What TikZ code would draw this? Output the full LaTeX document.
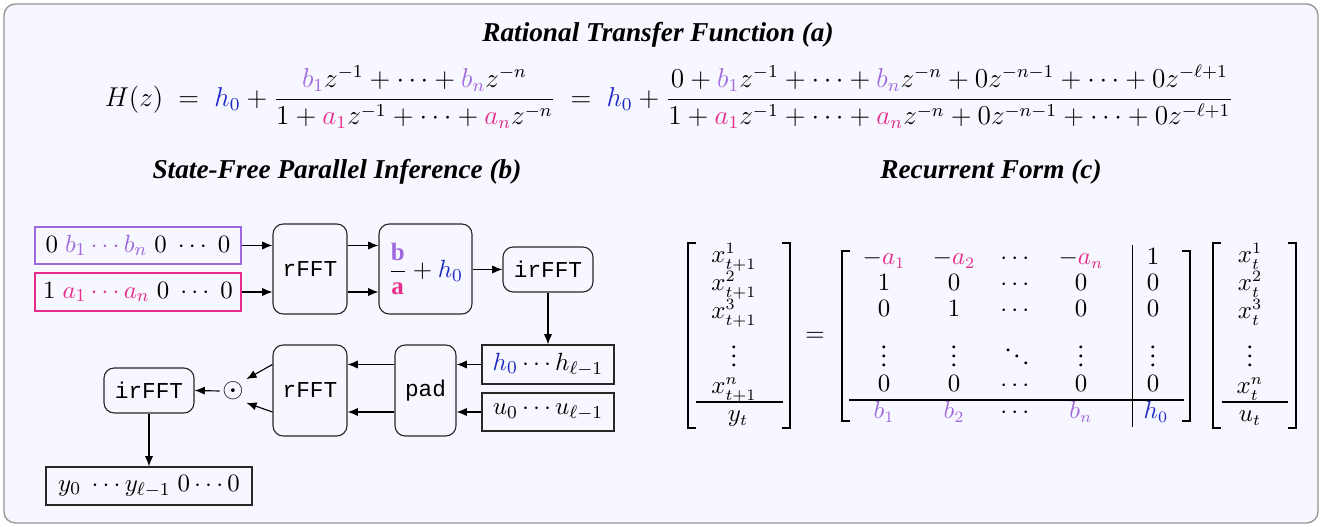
\documentclass[tikz,border=0pt]{standalone}
\usepackage{amsmath}
\usepackage{fontspec}
\setmainfont{Liberation Serif}
\setmonofont{Liberation Mono}
\usetikzlibrary{arrows.meta,calc}
\definecolor{bcol}{RGB}{160,104,222}
\definecolor{acol}{RGB}{232,44,140}
\definecolor{hcol}{RGB}{28,40,196}
\definecolor{bgcol}{RGB}{247,248,255}
\definecolor{framecol}{RGB}{150,150,150}
\definecolor{linecol}{RGB}{40,40,40}
\tikzset{
  blk/.style={draw=linecol, line width=0.5pt, rounded corners=4.5pt, inner sep=0pt, font=\ttfamily},
  vbox/.style={draw=linecol, line width=0.5pt, inner sep=0pt, font=\fontsize{11pt}{13pt}\selectfont},
  arr/.style={-{Latex[length=4.5pt,width=3.6pt]}, line width=0.5pt},
  ttl/.style={font=\fontsize{12pt}{14pt}\selectfont\bfseries\itshape},
  me/.style={anchor=base, inner sep=0pt, font=\fontsize{10.7pt}{12.8pt}\selectfont},
  brk/.style={line width=0.85pt},
  rule/.style={line width=0.45pt},
}
\begin{document}
\begin{tikzpicture}[x=0.44pt,y=-0.44pt]
\useasboundingbox (0,0) rectangle (1322,527);
\draw[framecol, fill=bgcol, line width=0.6pt, rounded corners=5pt] (4,4) rectangle (1318,523);

\node[ttl] (ta) at (658,35) {Rational Transfer Function (a)};
\node[font=\fontsize{11.9pt}{14pt}\selectfont] (eq) at (669,97) {$\displaystyle H(z) \;=\; {\color{hcol}h_0} + \frac{{\color{bcol}b_1} z^{-1} + \cdots + {\color{bcol}b_n} z^{-n}}{1 + {\color{acol}a_1} z^{-1} + \cdots + {\color{acol}a_n} z^{-n}} \;=\; {\color{hcol}h_0} + \frac{0 + {\color{bcol}b_1} z^{-1} + \cdots + {\color{bcol}b_n} z^{-n} + 0z^{-n-1} + \cdots + 0z^{-\ell+1}}{1 + {\color{acol}a_1} z^{-1} + \cdots + {\color{acol}a_n} z^{-n} + 0z^{-n-1} + \cdots + 0z^{-\ell+1}}$};

\node[ttl] (tb) at (337,172) {State-Free Parallel Inference (b)};
\node[ttl] (tc) at (991,172) {Recurrent Form (c)};

% (b) diagram
\node[vbox, draw=bcol, minimum width=206*0.44pt, minimum height=37*0.44pt] (bb) at (138,245.5) {$0\;{\color{bcol}b_1\cdots b_n}\;0\;\cdots\;0$};
\node[vbox, draw=acol, minimum width=206*0.44pt, minimum height=38*0.44pt] (ab) at (138,292) {$1\;{\color{acol}a_1\cdots a_n}\;0\;\cdots\;0$};
\node[blk, minimum width=74*0.44pt, minimum height=90*0.44pt] (rf1) at (310,269) {rFFT};
\node[blk, minimum width=93*0.44pt, minimum height=90*0.44pt, font=\fontsize{11pt}{13pt}\selectfont] (ratio) at (425.5,269) {$\displaystyle\frac{\color{bcol}\mathbf{b}}{\color{acol}\mathbf{a}} + {\color{hcol}h_0}$};
\node[blk, minimum width=90*0.44pt, minimum height=45*0.44pt] (irf1) at (548,269.5) {irFFT};
\node[vbox, minimum width=132*0.44pt, minimum height=39*0.44pt] (hb) at (548,364.5) {${\color{hcol}h_0}\cdots h_{\ell-1}$};
\node[vbox, minimum width=132*0.44pt, minimum height=38*0.44pt] (ub) at (548,412) {$u_0\cdots u_{\ell-1}$};
\node[blk, minimum width=61*0.44pt, minimum height=91*0.44pt] (pad) at (425.5,390.5) {pad};
\node[blk, minimum width=74*0.44pt, minimum height=91*0.44pt] (rf2) at (310,390.5) {rFFT};
\node[inner sep=1pt, font=\fontsize{11.5pt}{13pt}\selectfont] (dot) at (233,391) {$\odot$};
\node[blk, minimum width=90*0.44pt, minimum height=45*0.44pt] (irf2) at (149,390.5) {irFFT};
\node[vbox, minimum width=206*0.44pt, minimum height=38*0.44pt] (yb) at (149,486) {$y_0\ \cdots y_{\ell-1}\;0\cdots0$};

\draw[arr] (bb.east) -- (bb.east -| rf1.west);
\draw[arr] (ab.east) -- (ab.east -| rf1.west);
\draw[arr] (rf1.east |- bb) -- (ratio.west |- bb);
\draw[arr] (rf1.east |- ab) -- (ratio.west |- ab);
\draw[arr] (ratio.east |- irf1) -- (irf1.west);
\draw[arr] (irf1.south) -- (hb.north);
\draw[arr] (hb.west) -- (hb.west -| pad.east);
\draw[arr] (ub.west) -- (ub.west -| pad.east);
\draw[arr] (pad.west |- hb) -- (rf2.east |- hb);
\draw[arr] (pad.west |- ub) -- (rf2.east |- ub);
\draw[arr] (rf2.west |- hb) -- (dot.north east);
\draw[arr] (rf2.west |- ub) -- (dot.south east);
\draw[arr] (dot.west) -- (irf2.east);
\draw[arr] (irf2.south) -- (yb.north);

% (c) matrix form
% left vector
\node[me] (l1) at (734,263) {$x^1_{t+1}$};
\node[me] (l2) at (734,291) {$x^2_{t+1}$};
\node[me] (l3) at (734,319) {$x^3_{t+1}$};
\node[me] (l4) at (734,367) {$\vdots$};
\node[me] (l5) at (734,394) {$x^n_{t+1}$};
\node[me] (l6) at (738,422) {$y_t$};
\draw[rule] (696,402) -- (783,402);
\draw[brk] (696,243) -- (688,243) -- (688,428) -- (696,428);
\draw[brk] (782,243) -- (790,243) -- (790,428) -- (782,428);
\node[font=\fontsize{10.7pt}{12.8pt}\selectfont] (eqs) at (815,337) {$=$};
% big matrix
\node[me] (m11) at (884,265) {$-{\color{acol}a_1}$};
\node[me] (m12) at (954,265) {$-{\color{acol}a_2}$};
\node[me] (m13) at (1017,265) {$\cdots$};
\node[me] (m14) at (1081,265) {$-{\color{acol}a_n}$};
\node[me] (m15) at (1153,265) {$1$};
\node[me] (m21) at (884,291) {$1$};
\node[me] (m22) at (954,291) {$0$};
\node[me] (m23) at (1017,291) {$\cdots$};
\node[me] (m24) at (1081,291) {$0$};
\node[me] (m25) at (1153,291) {$0$};
\node[me] (m31) at (884,317) {$0$};
\node[me] (m32) at (954,317) {$1$};
\node[me] (m33) at (1017,317) {$\cdots$};
\node[me] (m34) at (1081,317) {$0$};
\node[me] (m35) at (1153,317) {$0$};
\node[me] (m41) at (884,367) {$\vdots$};
\node[me] (m42) at (954,367) {$\vdots$};
\node[me] (m43) at (1017,367) {$\ddots$};
\node[me] (m44) at (1081,367) {$\vdots$};
\node[me] (m45) at (1153,367) {$\vdots$};
\node[me] (m51) at (884,392) {$0$};
\node[me] (m52) at (954,392) {$0$};
\node[me] (m53) at (1017,392) {$\cdots$};
\node[me] (m54) at (1081,392) {$0$};
\node[me] (m55) at (1153,392) {$0$};
\node[me] (m61) at (884,419) {${\color{bcol}b_1}$};
\node[me] (m62) at (954,419) {${\color{bcol}b_2}$};
\node[me] (m63) at (1017,419) {$\cdots$};
\node[me] (m64) at (1081,419) {${\color{bcol}b_n}$};
\node[me] (m65) at (1156,419) {${\color{hcol}h_0}$};
\draw[rule] (849,400) -- (1184,400);
\draw[rule] (1132,245) -- (1132,427);
\draw[brk] (850,251) -- (842,251) -- (842,421) -- (850,421);
\draw[brk] (1182,251) -- (1190,251) -- (1190,421) -- (1182,421);
% right vector
\node[me] (r1) at (1250,263) {$x^1_{t}$};
\node[me] (r2) at (1250,291) {$x^2_{t}$};
\node[me] (r3) at (1250,319) {$x^3_{t}$};
\node[me] (r4) at (1250,367) {$\vdots$};
\node[me] (r5) at (1250,394) {$x^n_{t}$};
\node[me] (r6) at (1250,422) {$u_t$};
\draw[rule] (1222,402) -- (1288,402);
\draw[brk] (1221,243) -- (1213,243) -- (1213,428) -- (1221,428);
\draw[brk] (1288,243) -- (1296,243) -- (1296,428) -- (1288,428);
\end{tikzpicture}
\end{document}
